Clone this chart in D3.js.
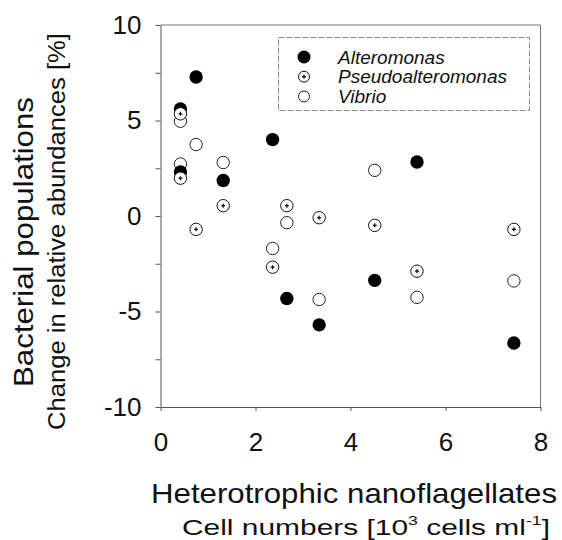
<!DOCTYPE html>
<html lang="en">
<head>
<meta charset="utf-8">
<title>Bacterial populations vs HNF</title>
<script src="https://d3js.org/d3.v7.min.js"></script>
<style>
  body { margin: 0; background: #fff; }
  svg { display: block; font-family: "Liberation Sans", Arial, sans-serif; }
  .axis path, .axis line { stroke: #555; }
  .axis text { font-size: 26px; fill: #111; }
</style>
</head>
<body>
<div id="chart"></div>
<script>
// HNF cell numbers (10^3 cells/ml), one per sample
const hnf = [0.42, 0.42, 0.75, 1.32, 2.36, 2.66, 3.34, 4.51, 5.40, 7.44];

// change in relative abundance (%) per genus
const alteromonas       = [5.6, 2.3, 7.28, 1.86, 4.0, -4.32, -5.7, -3.37, 2.83, -6.65];
const pseudoalteromonas = [5.35, 1.98, -0.7, 0.54, -2.68, 0.54, -0.09, -0.49, -2.89, -0.7];
const vibrio            = [4.96, 2.72, 3.74, 2.8, -1.70, -0.35, -4.37, 2.39, -4.26, -3.4];

const xTicks = [0, 2, 4, 6, 8];
const yTicks = [-10, -7.5, -5, -2.5, 0, 2.5, 5, 7.5, 10];
const seriesNames = ["Alteromonas", "Pseudoalteromonas", "Vibrio"];

const W = 562, H = 540;

const svg = d3.select("#chart").append("svg")
   .attr("width", W)
   .attr("height", H);

const x = d3.scaleLinear().domain([0, 8]).range([160.5, 540.5]);
const y = d3.scaleLinear().domain([-10, 10]).range([407, 25]);

// frame (top and right sides)
svg.append("path")
   .attr("d", `M${x(0)},${y(10)}H${x(8)}V${y(-10)}`)
   .attr("fill", "none")
   .attr("stroke", "#777")
   .attr("stroke-width", 1);

// Y axis
svg.append("g")
   .attr("class", "axis")
   .attr("transform", `translate(${x(0)},0)`)
   .call(d3.axisLeft(y)
      .tickValues(yTicks)
      .tickSize(5)
      .tickSizeOuter(0)
      .tickPadding(14)
      .tickFormat(d => d % 5 === 0 ? String(d) : ""));

// X axis
svg.append("g")
   .attr("class", "axis")
   .attr("transform", `translate(0,${y(-10)})`)
   .call(d3.axisBottom(x)
      .tickValues(xTicks)
      .tickSize(4)
      .tickSizeOuter(0)
      .tickPadding(22)
      .tickFormat(d => String(d)));

// markers
function drawPseudo(g, r) {
   g.append("circle").attr("r", r).attr("fill", "#fff").attr("stroke", "#111").attr("stroke-width", 1);
   g.append("path").attr("d", "M-2,0H2M0,-2V2").attr("stroke", "#111").attr("stroke-width", 1.3);
}
function drawVibrio(g, r) {
   g.append("circle").attr("r", r).attr("fill", "#fff").attr("stroke", "#222").attr("stroke-width", 1);
}
function drawAltero(g, r) {
   g.append("circle").attr("r", r).attr("fill", "#000");
}

const pts = svg.append("g");

// draw order: vibrio under, then alteromonas, pseudo on top
vibrio.forEach((v, i) => {
   drawVibrio(pts.append("g").attr("transform", `translate(${x(hnf[i])},${y(v)})`), 6.2);
});
alteromonas.forEach((v, i) => {
   drawAltero(pts.append("g").attr("transform", `translate(${x(hnf[i])},${y(v)})`), 6.7);
});
pseudoalteromonas.forEach((v, i) => {
   drawPseudo(pts.append("g").attr("transform", `translate(${x(hnf[i])},${y(v)})`), 6.2);
});

// legend
const legend = svg.append("g");
legend.append("rect")
   .attr("x", 278.5).attr("y", 37.5)
   .attr("width", 251).attr("height", 73)
   .attr("fill", "#fff")
   .attr("stroke", "#888")
   .attr("stroke-dasharray", "6,2");

const drawers = [drawAltero, drawPseudo, drawVibrio];
const legR = [6.5, 5.5, 5.5];
seriesNames.forEach((name, i) => {
   const base = 63.5 + i * 19.7;
   drawers[i](legend.append("g").attr("transform", `translate(304,${base - 6.5})`), legR[i]);
   legend.append("text")
      .attr("x", 338).attr("y", base)
      .attr("font-size", 19)
      .attr("font-style", "italic")
      .attr("fill", "#111")
      .text(name);
});

// axis titles
svg.append("text")
   .attr("transform", "translate(33,242) rotate(-90)")
   .attr("text-anchor", "middle")
   .attr("font-size", 27)
   .attr("textLength", 290)
   .attr("lengthAdjust", "spacingAndGlyphs")
   .attr("fill", "#111")
   .text("Bacterial populations");

svg.append("text")
   .attr("transform", "translate(65,231.5) rotate(-90)")
   .attr("text-anchor", "middle")
   .attr("font-size", 23)
   .attr("textLength", 397)
   .attr("lengthAdjust", "spacingAndGlyphs")
   .attr("fill", "#111")
   .text("Change in relative abundances [%]");

svg.append("text")
   .attr("x", 354).attr("y", 503)
   .attr("text-anchor", "middle")
   .attr("font-size", 28)
   .attr("textLength", 406)
   .attr("lengthAdjust", "spacingAndGlyphs")
   .attr("fill", "#111")
   .text("Heterotrophic nanoflagellates");

// subtitle with superscripts: stretch the whole group to the reference span 182..548
const subG = svg.append("g");
const sub = subG.append("text")
   .attr("font-size", 22)
   .attr("fill", "#111");
sub.append("tspan").text("Cell numbers [10");
sub.append("tspan").attr("font-size", 13).attr("dy", -10).text("3");
sub.append("tspan").attr("dy", 10).text(" cells ml");
sub.append("tspan").attr("font-size", 13).attr("dy", -10).text("-1");
sub.append("tspan").attr("dy", 10).text("]");

function fitSub() {
   const bb = sub.node().getBBox();
   const sx = 368 / bb.width;
   subG.attr("transform", `translate(${182 - bb.x * sx},535) scale(${sx},1)`);
}
fitSub();
if (document.fonts) document.fonts.ready.then(fitSub);
</script>
</body>
</html>
